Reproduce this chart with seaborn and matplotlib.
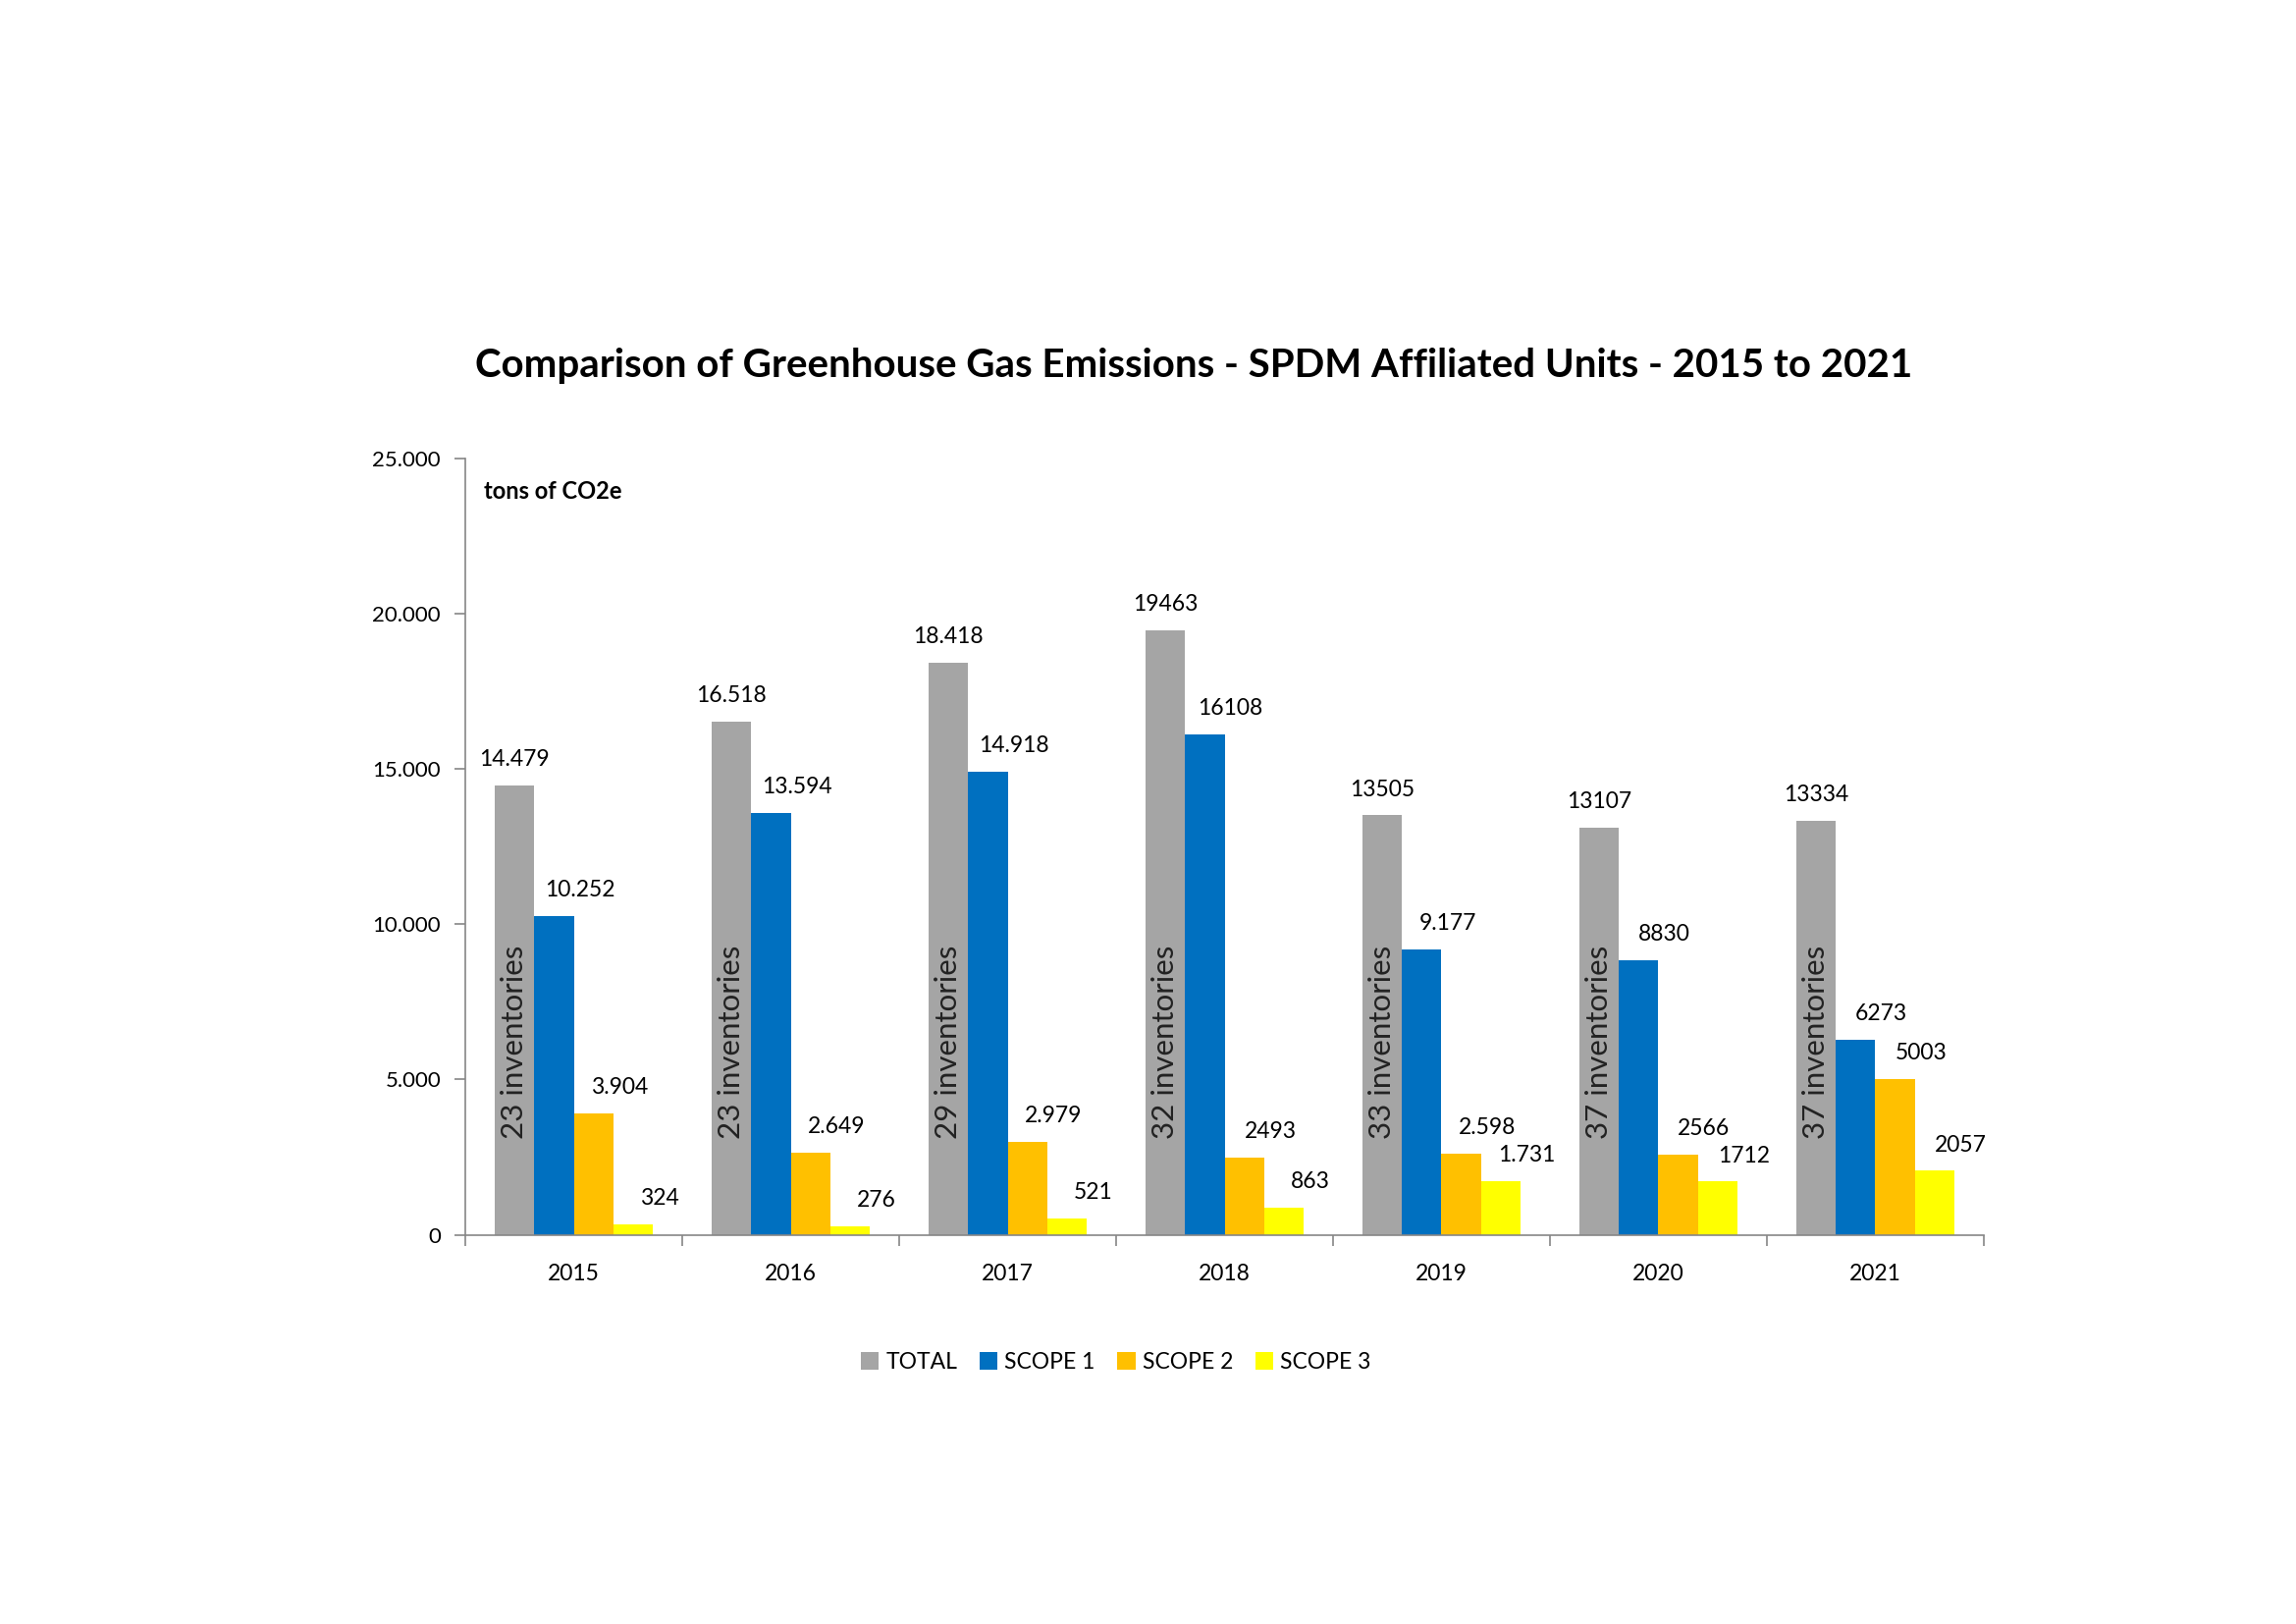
import matplotlib
matplotlib.use("Agg")
import matplotlib.pyplot as plt
import seaborn as sns
import pandas as pd
from matplotlib.ticker import FuncFormatter, FixedLocator

years = ["2015", "2016", "2017", "2018", "2019", "2020", "2021"]
series = ["TOTAL", "SCOPE 1", "SCOPE 2", "SCOPE 3"]
total = [14479, 16518, 18418, 19463, 13505, 13107, 13334]
scope1 = [10252, 13594, 14918, 16108, 9177, 8830, 6273]
scope2 = [3904, 2649, 2979, 2493, 2598, 2566, 5003]
scope3 = [324, 276, 521, 863, 1731, 1712, 2057]
total_labels = ["14.479", "16.518", "18.418", "19463", "13505", "13107", "13334"]
scope1_labels = ["10.252", "13.594", "14.918", "16108", "9.177", "8830", "6273"]
scope2_labels = ["3.904", "2.649", "2.979", "2493", "2.598", "2566", "5003"]
scope3_labels = ["324", "276", "521", "863", "1.731", "1712", "2057"]
inventories = ["23 inventories", "23 inventories", "29 inventories", "32 inventories",
               "33 inventories", "37 inventories", "37 inventories"]
colors = ["#A5A5A5", "#0070C0", "#FFC000", "#FFFF00"]

title = "Comparison of Greenhouse Gas Emissions - SPDM Affiliated Units - 2015 to 2021"
unit_label = "tons of CO2e"

sns.set_theme(style="white")
plt.rcParams["font.family"] = ["Lato", "DejaVu Sans"]
plt.rcParams["text.color"] = "black"
plt.rcParams["xtick.color"] = "black"
plt.rcParams["ytick.color"] = "black"

values = [total, scope1, scope2, scope3]
labels = [total_labels, scope1_labels, scope2_labels, scope3_labels]
df = pd.DataFrame({
    "year": [y for s in series for y in years],
    "series": [s for s in series for _ in years],
    "value": [v for vals in values for v in vals],
})

fig = plt.figure(figsize=(23.39, 16.54), dpi=100)
ax = fig.add_axes([0.2027, 0.2397, 0.8640 - 0.2027, 0.7177 - 0.2397])
sns.barplot(data=df, x="year", y="value", hue="series", hue_order=series,
            palette=colors, saturation=1, width=0.73, gap=0, linewidth=0,
            errorbar=None, ax=ax)

ax.set_xlim(-0.5, 6.5)
ax.set_ylim(0, 25000)
ax.yaxis.set_major_locator(FixedLocator([0, 5000, 10000, 15000, 20000, 25000]))
ax.yaxis.set_major_formatter(FuncFormatter(lambda v, p: f"{int(v):,}".replace(",", ".")))
ax.set_xlabel("")
ax.set_ylabel("")

for sp in ["top", "right"]:
    ax.spines[sp].set_visible(False)
for sp in ["left", "bottom"]:
    ax.spines[sp].set_color("#868686")
    ax.spines[sp].set_linewidth(1.2)

ax.tick_params(axis="y", which="major", left=True, length=8, width=1.2, color="#868686",
               labelsize=16, pad=10, labelcolor="black")
ax.tick_params(axis="x", which="major", bottom=False, length=0, labelsize=16.5, pad=21,
               labelcolor="black")
ax.set_xticks([i + 0.5 for i in range(-1, 7)], minor=True)
ax.tick_params(axis="x", which="minor", bottom=True, length=8, width=1.2, color="#868686")

for si, cont in enumerate(ax.containers):
    for bi, bar in enumerate(cont):
        cx = bar.get_x() + bar.get_width() / 2
        h = bar.get_height()
        dx = 0 if si == 0 else 19
        ax.annotate(labels[si][bi], (cx, h), xytext=(dx, 19), textcoords="offset points",
                    ha="center", va="center", fontsize=16.5, color="black")
        if si == 0:
            ax.text(cx, 3100, inventories[bi], rotation=90, ha="center", va="bottom",
                    fontsize=22.5, color="#222222")

ax.text(0.012, 0.958, unit_label, transform=ax.transAxes, fontsize=17,
        fontweight="bold", ha="left", va="center")

fig.text(0.52, 0.775, title, ha="center", va="center", fontsize=29, fontweight="bold",
         color="black")

handles, lbls = ax.get_legend_handles_labels()
ax.legend_.remove()
fig.legend(handles, lbls, loc="center", bbox_to_anchor=(0.486, 0.161), ncol=4,
           frameon=False, fontsize=16.5, handlelength=0.8, handleheight=0.8,
           handletextpad=0.3, columnspacing=1.0)

fig.savefig("out.png", dpi=100)
